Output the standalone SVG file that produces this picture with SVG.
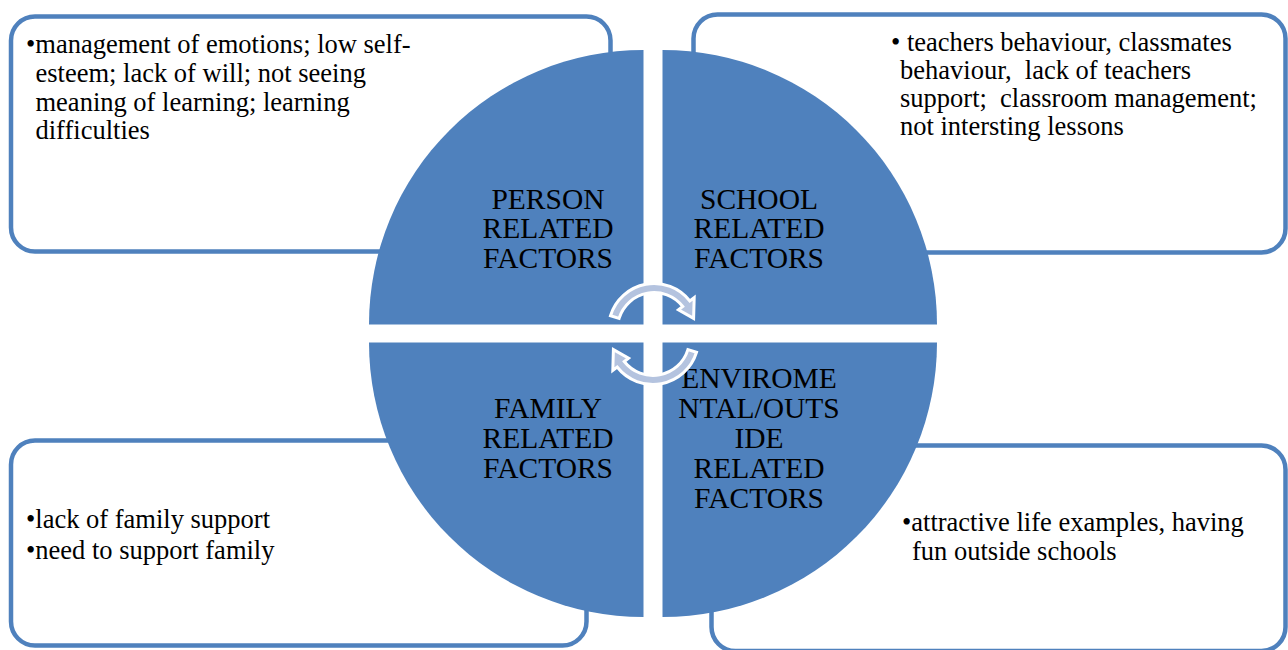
<svg xmlns="http://www.w3.org/2000/svg" width="1288" height="650" viewBox="0 0 1288 650">
<style>
.box{fill:#FFFFFF;stroke:#4F81BD;stroke-width:4.5}
.quad{fill:#4F81BD;stroke:none}
.body{font-family:"Liberation Serif","Times New Roman",serif;font-size:26.5px;fill:#000000;white-space:pre}
.lab{font-family:"Liberation Serif","Times New Roman",serif;font-size:29.5px;fill:#000000;text-anchor:middle}
.cyc{fill:#B4C3DF;stroke:#FFFFFF;stroke-width:3;stroke-linejoin:miter}
</style>
<defs>
<path id="cycArrow" class="cyc" d="M -43.51 -13.30 A 45.5 45.5 0 0 1 35.86 -28.01 L 40.19 -31.40 L 39.60 -10.61 L 24.43 -19.09 L 28.76 -22.47 A 36.5 36.5 0 0 0 -34.90 -10.67 Z"/>
</defs>
<rect width="1288" height="650" fill="#FFFFFF"/>

<g id="node-person">
<rect class="box" x="11" y="16.5" width="599.5" height="235" rx="24" ry="24"/>
<text class="body" x="26" y="53">•management of emotions; low self-</text>
<text class="body" x="35.5" y="82">esteem; lack of will; not seeing</text>
<text class="body" x="35.5" y="110.5">meaning of learning; learning</text>
<text class="body" x="35.5" y="139">difficulties</text>
<path class="quad" d="M 643.5 324.5 L 369 324.5 A 274.5 274.5 0 0 1 643.5 50 Z"/>
<text class="lab" x="548" y="208.5">PERSON</text>
<text class="lab" x="548" y="238.3">RELATED</text>
<text class="lab" x="548" y="268">FACTORS</text>
</g>

<g id="node-school">
<rect class="box" x="693.5" y="14.5" width="592" height="238" rx="24" ry="24"/>
<text class="body" x="891" y="50.5">• teachers behaviour, classmates</text>
<text class="body" x="900" y="78.5">behaviour,  lack of teachers</text>
<text class="body" x="900" y="106.5">support;  classroom management;</text>
<text class="body" x="900" y="134.5">not intersting lessons</text>
<path class="quad" d="M 662.5 324.5 L 662.5 50 A 274.5 274.5 0 0 1 937 324.5 Z"/>
<text class="lab" x="759" y="208.5">SCHOOL</text>
<text class="lab" x="759" y="238.3">RELATED</text>
<text class="lab" x="759" y="268">FACTORS</text>
</g>

<g id="node-family">
<rect class="box" x="11" y="440.5" width="575.5" height="205" rx="24" ry="24"/>
<text class="body" x="26" y="527.5">•lack of family support</text>
<text class="body" x="26" y="558.5">•need to support family</text>
<path class="quad" d="M 643.5 342.5 L 643.5 617 A 274.5 274.5 0 0 1 369 342.5 Z"/>
<text class="lab" x="548" y="418">FAMILY</text>
<text class="lab" x="548" y="447.8">RELATED</text>
<text class="lab" x="548" y="477.6">FACTORS</text>
</g>

<g id="node-environmental">
<rect class="box" x="711.5" y="445.5" width="574" height="205.5" rx="24" ry="24"/>
<text class="body" x="902" y="531">•attractive life examples, having</text>
<text class="body" x="912" y="559.5">fun outside schools</text>
<path class="quad" d="M 662.5 342.5 L 937 342.5 A 274.5 274.5 0 0 1 662.5 617 Z"/>
<text class="lab" x="759" y="388">ENVIROME</text>
<text class="lab" x="759" y="418">NTAL/OUTS</text>
<text class="lab" x="759" y="448">IDE</text>
<text class="lab" x="759" y="478">RELATED</text>
<text class="lab" x="759" y="507.5">FACTORS</text>
</g>

<g id="connectors">
<use href="#cycArrow" transform="translate(654 329)"/>
<use href="#cycArrow" transform="translate(653 339) rotate(180)"/>
</g>
</svg>
